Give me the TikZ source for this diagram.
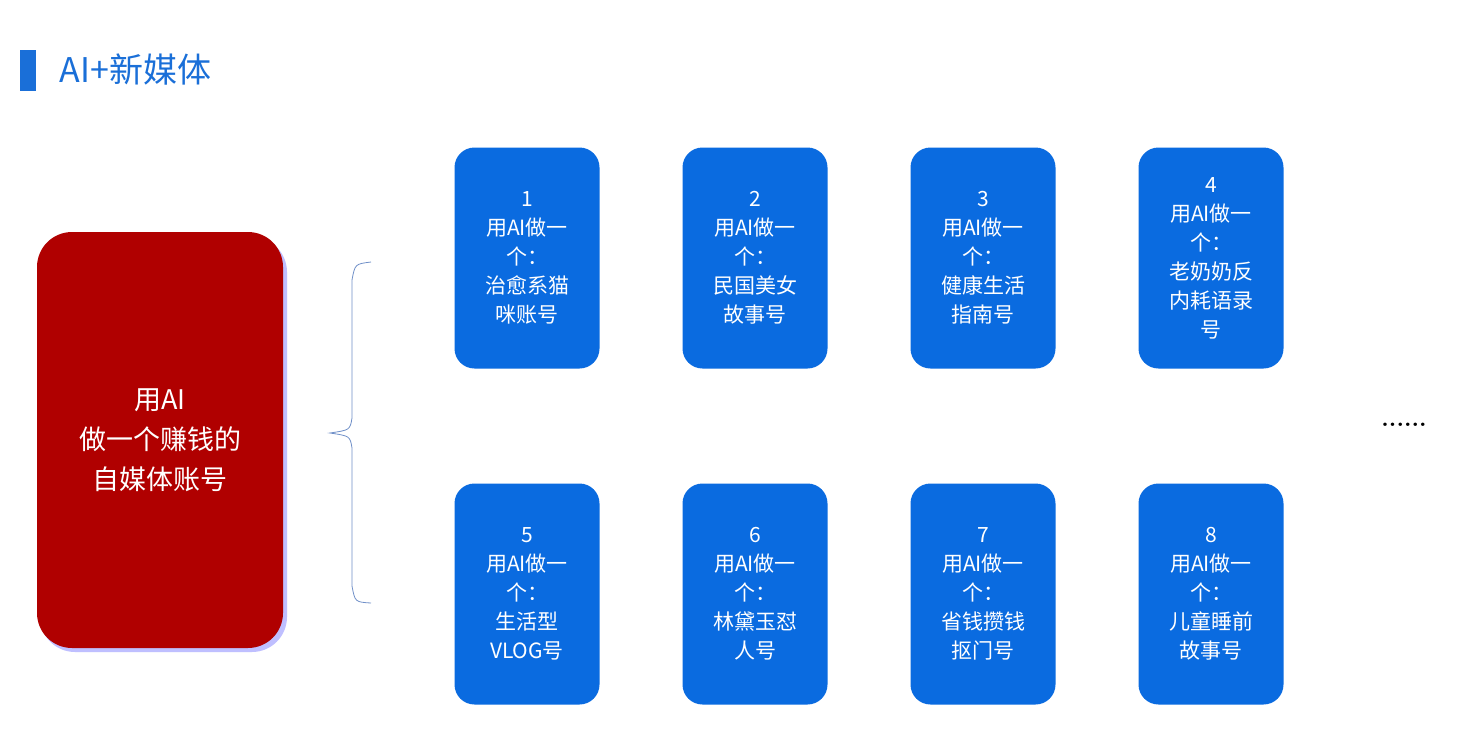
\documentclass[tikz,border=0pt]{standalone}
\usepackage{fontspec}
\newfontfamily\cjk{Noto Sans CJK SC}
\definecolor{titleblue}{HTML}{1A6FD8}
\definecolor{cardblue}{HTML}{0A6BE0}
\definecolor{mainred}{HTML}{B00000}
\definecolor{bracecol}{HTML}{6F8FC8}
\tikzset{
  card/.style={fill=cardblue, rounded corners=20pt, minimum width=145pt,
    minimum height=221pt, text=white, align=center, inner sep=0pt,
    font=\cjk\fontsize{21}{29}\selectfont},
  mainbox/.style={fill=mainred, rounded corners=35pt, minimum width=246pt,
    minimum height=416pt, text=white, align=center,
    font=\cjk\fontsize{27}{40}\selectfont}
}
\begin{document}
\begin{tikzpicture}[x=1pt,y=-1pt]
    \useasboundingbox[fill=white] (0,0) rectangle (1457,729);

    % title
    \fill[titleblue] (20,50) rectangle (36,91);
    \node[titleblue, anchor=west, font=\cjk\fontsize{34}{40}\selectfont] (title) at (56,70) {AI+新媒体};

    % main box with soft shadow
    \fill[blue!25, rounded corners=35pt] (40,237) rectangle (287,652);
    \node[mainbox] (main) at (160,440) {用AI\\做一个赚钱的\\自媒体账号};

    % brace
    \draw[bracecol, thick] (371,262) .. controls (355,264) .. (352,280) -- (352,418)
        .. controls (350,430) .. (330,433) .. controls (350,436) .. (352,448)
        -- (352,586) .. controls (355,602) .. (371,603);

    % cards
    \foreach \n/\x/\y/\txt in {
        1/527/258/{1\\用AI做一\\个：\\治愈系猫\\咪账号},
        2/755/258/{2\\用AI做一\\个：\\民国美女\\故事号},
        3/983/258/{3\\用AI做一\\个：\\健康生活\\指南号},
        4/1211/258/{4\\用AI做一\\个：\\老奶奶反\\内耗语录\\号},
        5/527/594/{5\\用AI做一\\个：\\生活型\\VLOG号},
        6/755/594/{6\\用AI做一\\个：\\林黛玉怼\\人号},
        7/983/594/{7\\用AI做一\\个：\\省钱攒钱\\抠门号},
        8/1211/594/{8\\用AI做一\\个：\\儿童睡前\\故事号}} {
        \node[card] (c\n) at (\x,\y) {\txt};
    }

    % more
    \node[font=\fontsize{24}{24}\selectfont\bfseries] (more) at (1404,425) {......};
\end{tikzpicture}
\end{document}
